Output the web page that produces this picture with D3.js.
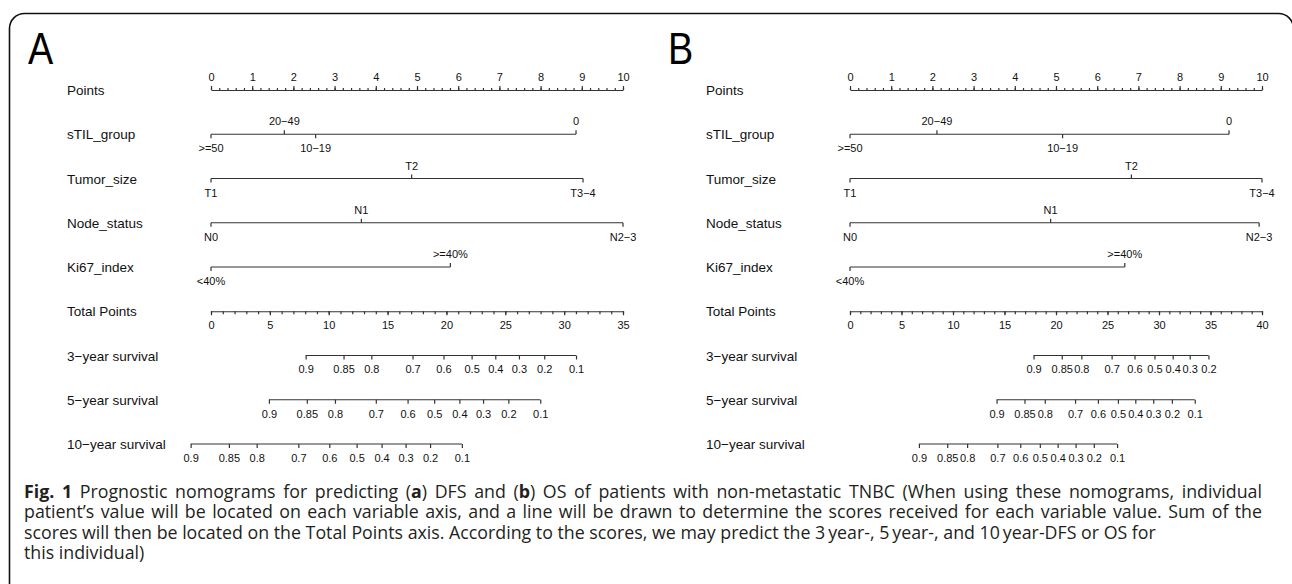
<!DOCTYPE html>
<html>
<head>
<meta charset="utf-8">
<script src="https://cdn.jsdelivr.net/npm/d3@7"></script>
<style>
    body { margin: 0; background: #fff; }
    svg { display: block; }
    .axis-name { font-family: "Liberation Sans", Arial, sans-serif; font-size: 13.5px; fill: #111; }
    .tick-label { font-family: "Liberation Sans", Arial, sans-serif; font-size: 11px; fill: #111; }
    .caption { font-family: "Open Sans", sans-serif; font-size: 17.8px; fill: #231f20; white-space: pre; }
</style>
</head>
<body>
<svg id="chart"></svg>
<script>
// row names, top to bottom
const rowNames = ['Points', 'sTIL_group', 'Tumor_size', 'Node_status', 'Ki67_index',
    'Total Points', '3\u2212year survival', '5\u2212year survival', '10\u2212year survival'];

const survProbs = [0.9, 0.85, 0.8, 0.7, 0.6, 0.5, 0.4, 0.3, 0.2, 0.1];

// Panel A (DFS)
const aTotalMax = 35;
const aSTILLevels = ['>=50', '20\u221249', '10\u221219', '0'];
const aSTILPoints = [0, 1.78, 2.54, 8.86];
const aTumorLevels = ['T1', 'T2', 'T3\u22124'];
const aTumorPoints = [0, 4.87, 9.03];
const aNodeLevels = ['N0', 'N1', 'N2\u22123'];
const aNodePoints = [0, 3.65, 10];
const aKi67Levels = ['<40%', '>=40%'];
const aKi67Points = [0, 5.81];
const aSurv3 = [8.04, 11.26, 13.62, 17.12, 19.75, 22.14, 24.15, 26.16, 28.31, 31.01];
const aSurv5 = [4.92, 8.14, 10.53, 14.0, 16.70, 18.96, 21.10, 23.11, 25.26, 27.97];
const aSurv10 = [-1.73, 1.52, 3.88, 7.42, 10.05, 12.37, 14.49, 16.53, 18.61, 21.31];

// Panel B (OS)
const bTotalMax = 40;
const bSTILLevels = ['>=50', '20\u221249', '10\u221219', '0'];
const bSTILPoints = [0, 2.11, 5.16, 9.20];
const bTumorLevels = ['T1', 'T2', 'T3\u22124'];
const bTumorPoints = [0, 6.83, 10];
const bNodeLevels = ['N0', 'N1', 'N2\u22123'];
const bNodePoints = [0, 4.87, 9.93];
const bKi67Levels = ['<40%', '>=40%'];
const bKi67Points = [0, 6.67];
const bSurv3 = [17.82, 20.56, 22.46, 25.40, 27.62, 29.56, 31.33, 32.98, 34.80];
const bSurv5 = [14.23, 16.94, 18.91, 21.85, 24.07, 26.01, 27.70, 29.44, 31.25, 33.47];
const bSurv10 = [6.69, 9.44, 11.37, 14.31, 16.53, 18.43, 20.16, 21.90, 23.67, 25.93];

const captionLines = [
    [['Fig. 1', true], [' Prognostic nomograms for predicting (', false], ['a', true], [') DFS and (', false], ['b', true],
        [') OS of patients with non-metastatic TNBC (When using these nomograms, individual', false]],
    [['patient\u2019s value will be located on each variable axis, and a line will be drawn to determine the scores received for each variable value. Sum of the', false]],
    [['scores will then be located on the Total Points axis. According to the scores, we may predict the 3\u2009year-, 5\u2009year-, and 10\u2009year-DFS or OS for', false]],
    [['this individual)', false]]
];

const width = 1292, height = 584;
const svg = d3.select('#chart').attr('width', width).attr('height', height);

const lineColor = '#333';
const rowY = d3.range(rowNames.length).map(i => 90 + i * 44.25);

// outer frame (right and bottom edges fall outside the picture)
svg.append('rect')
    .attr('x', 9.5).attr('y', 13.5)
    .attr('width', 1284).attr('height', 620)
    .attr('rx', 15).attr('ry', 15)
    .attr('fill', 'none').attr('stroke', '#111').attr('stroke-width', 1.6);

function drawPanel(p) {
    const g = svg.append('g');

    g.append('text')
        .attr('x', p.letterX).attr('y', 64)
        .attr('font-family', '"Liberation Sans", Arial, sans-serif')
        .attr('font-size', 44)
        .attr('transform', `translate(${p.letterX},0) scale(0.86,1) translate(${-p.letterX},0)`)
        .attr('fill', '#000')
        .text(p.letter);

    g.selectAll('.axis-name')
        .data(rowNames)
        .join('text')
        .attr('class', 'axis-name')
        .attr('x', p.nameX)
        .attr('y', (d, i) => rowY[i] + 5)
        .text(d => d);

    const x = d3.scaleLinear().domain([0, 10]).range([p.x0, p.x0 + 412]);
    const xt = d3.scaleLinear().domain([0, p.totalMax]).range([p.x0, p.x0 + 412]);

    // Points axis
    const ptsMinor = g.append('g').attr('transform', `translate(0,${rowY[0]})`)
        .call(d3.axisTop(x).tickValues(d3.range(0, 10.01, 0.2)).tickSize(2).tickSizeOuter(0).tickFormat(''));
    const ptsMajor = g.append('g').attr('transform', `translate(0,${rowY[0]})`)
        .call(d3.axisTop(x).tickValues(d3.range(0, 11)).tickSize(4).tickSizeOuter(0).tickPadding(5));
    ptsMinor.select('.domain').remove();
    styleAxis(ptsMajor);
    styleAxis(ptsMinor);

    // variable axes: labels alternate below / above the line
    p.vars.forEach((v, vi) => {
        const y = rowY[vi + 1];
        const vg = g.append('g');
        vg.append('line')
            .attr('x1', x(d3.min(v.points))).attr('x2', x(d3.max(v.points)))
            .attr('y1', y).attr('y2', y)
            .attr('stroke', lineColor).attr('stroke-width', 1.2);
        vg.selectAll('.vtick')
            .data(v.points)
            .join('line')
            .attr('class', 'vtick')
            .attr('x1', d => x(d)).attr('x2', d => x(d))
            .attr('y1', y)
            .attr('y2', (d, i) => i % 2 === 0 ? y + 4 : y - 4)
            .attr('stroke', lineColor).attr('stroke-width', 1.2);
        vg.selectAll('.tick-label')
            .data(v.levels)
            .join('text')
            .attr('class', 'tick-label')
            .attr('text-anchor', 'middle')
            .attr('x', (d, i) => x(v.points[i]))
            .attr('y', (d, i) => i % 2 === 0 ? y + 18 : y - 9)
            .text(d => d);
    });

    // Total Points axis
    const totMinor = g.append('g').attr('transform', `translate(0,${rowY[5]})`)
        .call(d3.axisBottom(xt).tickValues(d3.range(0, p.totalMax + 0.01, 1)).tickSize(3).tickSizeOuter(0).tickFormat(''));
    const totMajor = g.append('g').attr('transform', `translate(0,${rowY[5]})`)
        .call(d3.axisBottom(xt).tickValues(d3.range(0, p.totalMax + 0.01, 5)).tickSize(4).tickSizeOuter(0).tickPadding(6));
    totMinor.select('.domain').remove();
    styleAxis(totMajor);
    styleAxis(totMinor);

    // survival axes
    p.surv.forEach((pts, si) => {
        const y = rowY[6 + si];
        const sg = g.append('g').attr('transform', `translate(0,${y})`)
            .call(d3.axisBottom(xt).tickValues(pts).tickSize(4).tickPadding(6)
                .tickFormat((d, i) => survProbs[i]));
        sg.select('.domain').remove();
        sg.append('line')
            .attr('x1', xt(d3.min(pts))).attr('x2', xt(d3.max(pts)))
            .attr('stroke', lineColor).attr('stroke-width', 1.2);
        styleAxis(sg);
    });
}

function styleAxis(ag) {
    ag.attr('font-family', null).attr('font-size', null);
    ag.select('.domain').attr('stroke', lineColor).attr('stroke-width', 1.2);
    ag.selectAll('.tick line').attr('stroke', lineColor).attr('stroke-width', 1.2);
    ag.selectAll('.tick text').attr('class', 'tick-label').attr('fill', null);
}

drawPanel({
    letter: 'A', letterX: 28, nameX: 67, x0: 211, totalMax: aTotalMax,
    vars: [
        { levels: aSTILLevels, points: aSTILPoints },
        { levels: aTumorLevels, points: aTumorPoints },
        { levels: aNodeLevels, points: aNodePoints },
        { levels: aKi67Levels, points: aKi67Points }
    ],
    surv: [aSurv3, aSurv5, aSurv10]
});

drawPanel({
    letter: 'B', letterX: 668, nameX: 706, x0: 850, totalMax: bTotalMax,
    vars: [
        { levels: bSTILLevels, points: bSTILPoints },
        { levels: bTumorLevels, points: bTumorPoints },
        { levels: bNodeLevels, points: bNodePoints },
        { levels: bKi67Levels, points: bKi67Points }
    ],
    surv: [bSurv3, bSurv5, bSurv10]
});

// caption: each run is its own text, first two lines justified to the right edge
const capX = 24, capRight = 1262;
const countSpaces = s => s.split(' ').length - 1;
captionLines.forEach((parts, li) => {
    const y = 498 + li * 20.3;
    const runs = parts.map(([txt, bold]) => svg.append('text')
        .attr('class', 'caption')
        .attr('y', y)
        .attr('font-weight', bold ? 700 : 400)
        .text(txt));
    const widths = runs.map(r => r.node().getComputedTextLength());
    let ws = 0;
    if (li < 2) {
        const spaces = d3.sum(parts, d => countSpaces(d[0]));
        ws = Math.max(0, (capRight - capX - d3.sum(widths)) / spaces);
    }
    let cx = capX;
    runs.forEach((r, i) => {
        r.attr('x', cx).attr('word-spacing', ws);
        cx += widths[i] + countSpaces(parts[i][0]) * ws;
    });
});
</script>
</body>
</html>
